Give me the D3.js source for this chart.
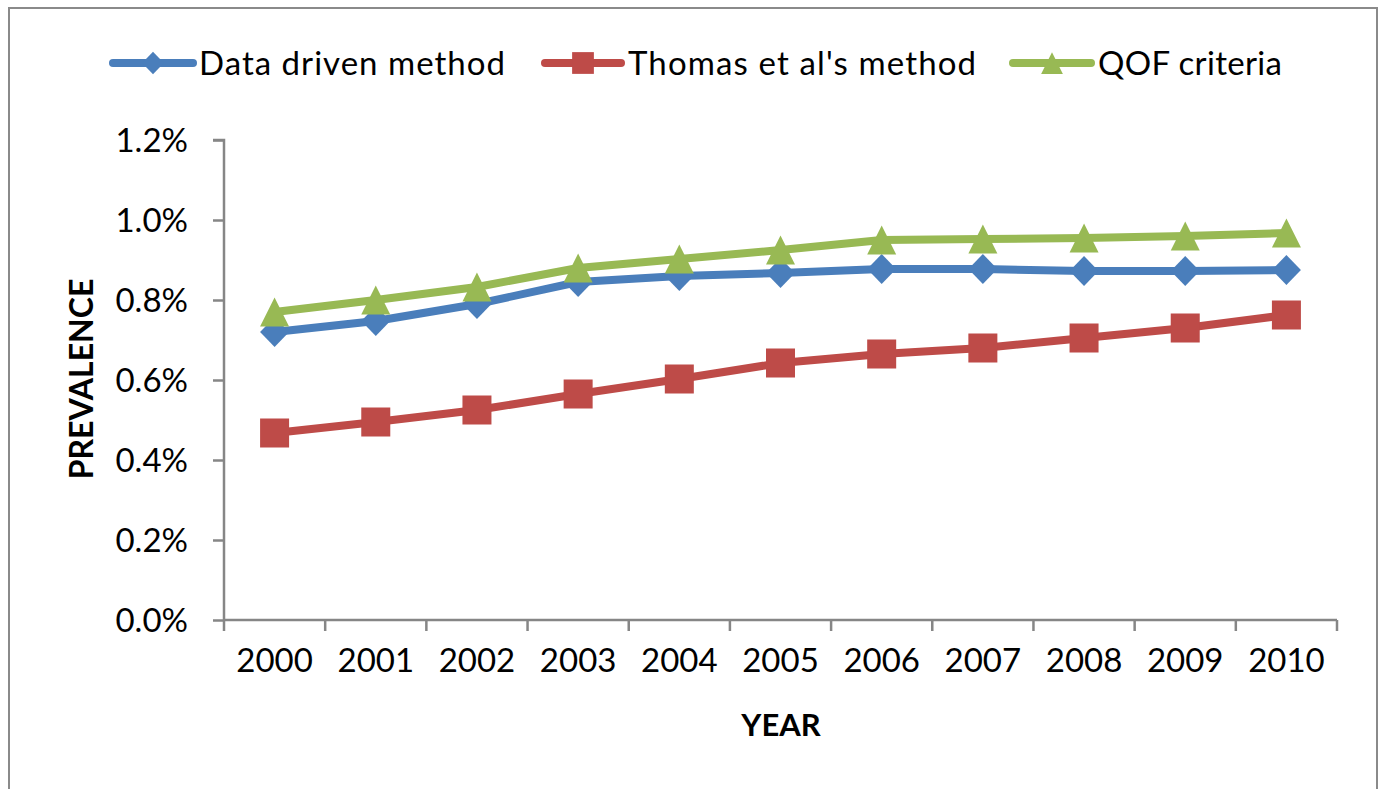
<!DOCTYPE html>
<html>
<head>
<meta charset="utf-8">
<script src="https://cdn.jsdelivr.net/npm/d3@7"></script>
<style>
  html, body { margin: 0; padding: 0; background: #fff; }
  svg { display: block; }
  text { font-family: Lato, "Open Sans", sans-serif; fill: #000; }
</style>
</head>
<body>
<svg id="chart" width="1383" height="789"></svg>
<script>
const years = ["2000","2001","2002","2003","2004","2005","2006","2007","2008","2009","2010"];
const dataDriven = [0.720, 0.7475, 0.790, 0.845, 0.860, 0.8675, 0.8775, 0.8775, 0.8725, 0.8725, 0.875];
const thomas = [0.4675, 0.495, 0.525, 0.565, 0.6025, 0.6425, 0.665, 0.680, 0.705, 0.730, 0.7625];
const qof = [0.770, 0.800, 0.8325, 0.880, 0.9025, 0.925, 0.950, 0.9525, 0.955, 0.960, 0.9675];
const yTicks = [0, 0.2, 0.4, 0.6, 0.8, 1.0, 1.2];
const seriesNames = ["Data driven method", "Thomas et al's method", "QOF criteria"];
const xTitle = "YEAR";
const yTitle = "PREVALENCE";

const svg = d3.select("#chart");
const plot = {left: 224, right: 1337, top: 140, bottom: 620};
const axisColor = "#868686";

// outer frame
svg.append("rect").attr("x", 9).attr("y", 8).attr("width", 1368).attr("height", 800)
  .attr("fill", "none").attr("stroke", "#8a8a8a").attr("stroke-width", 2);

const x = d3.scaleBand().domain(years).range([plot.left, plot.right]).padding(0);
const y = d3.scaleLinear().domain([0, 1.2]).range([plot.bottom, plot.top]);

// Y axis
const yAxis = d3.axisLeft(y).tickValues(yTicks).tickFormat(d => d.toFixed(1) + "%").tickSize(11).tickPadding(25);
const gy = svg.append("g").attr("transform", `translate(${plot.left},0)`).call(yAxis);
gy.select(".domain").attr("stroke", axisColor).attr("stroke-width", 2.5).attr("d", `M-11,${plot.top}H0V${plot.bottom}`);
gy.selectAll(".tick line").attr("stroke", axisColor).attr("stroke-width", 2.5);
gy.selectAll(".tick text").attr("font-size", 33).attr("font-family", "Lato, sans-serif").attr("fill", "#000").attr("dy", "0.36em");

// X axis
const xAxis = d3.axisBottom(x).tickSize(0).tickPadding(40);
const gx = svg.append("g").attr("transform", `translate(0,${plot.bottom})`).call(xAxis);
gx.select(".domain").attr("stroke", axisColor).attr("stroke-width", 2.5).attr("d", `M${plot.left},0H${plot.right}`);
gx.selectAll(".tick text").attr("font-size", 33).attr("font-family", "Lato, sans-serif").attr("fill", "#000").attr("dy", "0.36em");
const bounds = years.map(d => x(d)).concat([x(years[years.length - 1]) + x.bandwidth()]);
gx.selectAll(".bound").data(bounds).join("line").attr("class", "bound")
  .attr("x1", d => d).attr("x2", d => d).attr("y1", 0).attr("y2", 11)
  .attr("stroke", axisColor).attr("stroke-width", 2.5);

// axis titles
svg.append("text").attr("x", 781).attr("y", 736).attr("text-anchor", "middle")
  .attr("font-size", 31).attr("font-weight", "bold").text(xTitle);
svg.append("text").attr("transform", `translate(93,379) rotate(-90)`).attr("text-anchor", "middle")
  .attr("font-size", 32).attr("font-weight", "bold").text(yTitle);

// series
const series = [
  {name: seriesNames[0], values: dataDriven, color: "#4A7EBB", marker: "diamond"},
  {name: seriesNames[1], values: thomas, color: "#BE4B48", marker: "square"},
  {name: seriesNames[2], values: qof, color: "#98B954", marker: "triangle"}
];
const cx = d => x(d) + x.bandwidth() / 2;
const line = d3.line().x((v, i) => cx(years[i])).y(v => y(v));

function drawMarker(g, type, px, py, scale, color) {
  if (type === "diamond") {
    const h = 15 * scale, w = 14.5 * scale;
    g.append("path").attr("d", `M${px},${py - h}L${px + w},${py}L${px},${py + h}L${px - w},${py}Z`).attr("fill", color);
  } else if (type === "square") {
    const s = 14.5 * scale;
    g.append("rect").attr("x", px - s).attr("y", py - s).attr("width", 2 * s).attr("height", 2 * s).attr("fill", color);
  } else {
    const s = 14.5 * scale;
    g.append("path").attr("d", `M${px},${py - s}L${px + s},${py + s}L${px - s},${py + s}Z`).attr("fill", color);
  }
}

series.forEach(s => {
  const g = svg.append("g");
  g.append("path").datum(s.values).attr("d", line).attr("fill", "none")
    .attr("stroke", s.color).attr("stroke-width", 8).attr("stroke-linejoin", "round");
  s.values.forEach((v, i) => drawMarker(g, s.marker, cx(years[i]), y(v), 1, s.color));
});

// legend
const legendItems = [
  {x1: 113, x2: 193, tx: 199, w: 306},
  {x1: 545, x2: 621, tx: 628, w: 348},
  {x1: 1013, x2: 1091, tx: 1098, w: 184}
];
series.forEach((s, i) => {
  const L = legendItems[i];
  const g = svg.append("g");
  g.append("line").attr("x1", L.x1).attr("x2", L.x2).attr("y1", 63).attr("y2", 63)
    .attr("stroke", s.color).attr("stroke-width", 8).attr("stroke-linecap", "round");
  drawMarker(g, s.marker, (L.x1 + L.x2) / 2, 63, 0.75, s.color);
  g.append("text").attr("x", L.tx).attr("y", 75).attr("font-size", 33)
    .attr("textLength", L.w).attr("lengthAdjust", "spacing").text(s.name);
});
</script>
</body>
</html>
